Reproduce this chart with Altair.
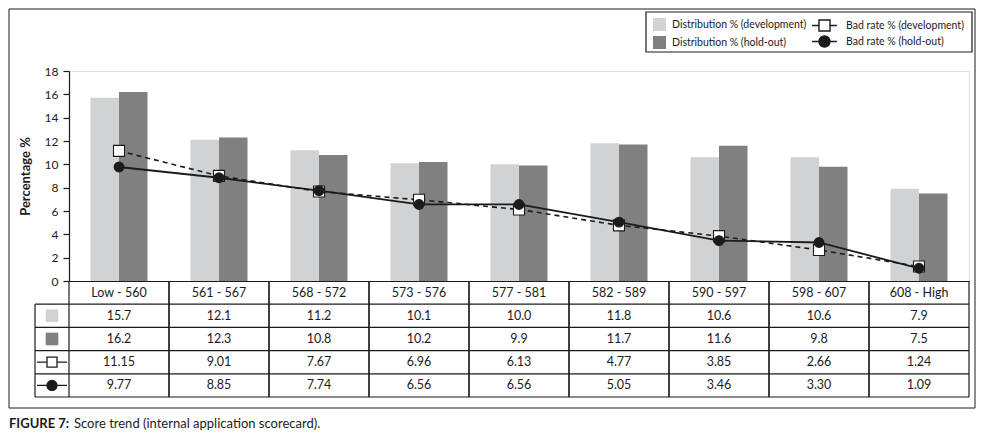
import altair as alt
import pandas as pd

# ---------------- data ----------------
CATEGORIES = ["Low - 560", "561 - 567", "568 - 572", "573 - 576", "577 - 581",
              "582 - 589", "590 - 597", "598 - 607", "608 - High"]
DIST_DEV = [15.7, 12.1, 11.2, 10.1, 10.0, 11.8, 10.6, 10.6, 7.9]
DIST_HOLD = [16.2, 12.3, 10.8, 10.2, 9.9, 11.7, 11.6, 9.8, 7.5]
BAD_DEV = [11.15, 9.01, 7.67, 6.96, 6.13, 4.77, 3.85, 2.66, 1.24]
BAD_HOLD = [9.77, 8.85, 7.74, 6.56, 6.56, 5.05, 3.46, 3.30, 1.09]
SERIES = ["Distribution % (development)", "Distribution % (hold-out)",
          "Bad rate % (development)", "Bad rate % (hold-out)"]
Y_TICKS = [0, 2, 4, 6, 8, 10, 12, 14, 16, 18]
Y_TITLE = "Percentage %"
CAPTION_BOLD = "FIGURE 7:"
CAPTION_TEXT = "Score trend (internal application scorecard)."

# ---------------- style ----------------
FONT = "Lato"
INK = "#1b1b1b"
LIGHT = "#d1d2d4"
DARK = "#808080"
PLOT_W, PLOT_H = 900, 210
ROW_H = 23.2
N_ROWS = 5

n = len(CATEGORIES)
bars_df = pd.DataFrame({"cat": CATEGORIES * 2,
                        "series": [SERIES[0]] * n + [SERIES[1]] * n,
                        "value": DIST_DEV + DIST_HOLD})
rates_df = pd.DataFrame({"cat": CATEGORIES * 2,
                         "series": [SERIES[2]] * n + [SERIES[3]] * n,
                         "value": BAD_DEV + BAD_HOLD})
row_of = {s: i + 1 for i, s in enumerate(SERIES)}
table_df = pd.concat([bars_df, rates_df], ignore_index=True)
table_df["ry"] = table_df["series"].map(row_of) + 0.5
header_df = pd.DataFrame({"cat": CATEGORIES, "ry": [0.5] * n})
cat_df = pd.DataFrame({"cat": CATEGORIES})
hline_df = pd.DataFrame({"r": list(range(1, N_ROWS + 1))})
key_df = pd.DataFrame({"series": SERIES, "ry": [row_of[s] + 0.5 for s in SERIES]})
one = pd.DataFrame({"k": [0]})

# ---------------- main chart ----------------
x_main = alt.X("cat:N", sort=CATEGORIES,
               scale=alt.Scale(domain=CATEGORIES, paddingInner=0.43, paddingOuter=0.215),
               axis=alt.Axis(labels=False, ticks=False, title=None,
                             domainColor=INK, domainWidth=1.2))
y_main = alt.Y("value:Q", scale=alt.Scale(domain=[0, 18], nice=False),
               axis=alt.Axis(values=Y_TICKS, tickSize=6, tickColor=INK, tickWidth=1.2,
                             domainColor=INK, domainWidth=1.2, grid=False,
                             labelFont=FONT, labelFontSize=12, labelColor=INK, labelPadding=5,
                             title=Y_TITLE, titleFont=FONT, titleFontSize=13,
                             titleFontWeight="bold", titleColor=INK, titlePadding=12))

legend_a = alt.Legend(title=None, orient="none", legendX=584, legendY=-53,
                      direction="vertical", symbolType="square", symbolSize=169,
                      symbolStrokeWidth=0, labelOffset=6, rowPadding=5, padding=0,
                      labelFont=FONT, labelFontSize=10.5, labelColor=INK, labelLimit=300)

PATH_DEV_L = "M-1.9,0H-0.85M0.85,0H1.9M-0.85,-0.85H0.85V0.85H-0.85Z"
PATH_HOLD_L = "M-1.9,0H1.9M-0.85,0A0.85,0.85,0,1,1,0.85,0A0.85,0.85,0,1,1,-0.85,0Z"
legend_b = alt.Legend(title=None, orient="none", legendX=748, legendY=-53,
                      direction="vertical", symbolSize=169, symbolStrokeWidth=1.4,
                      symbolStrokeColor=INK, labelOffset=14, rowPadding=-1, padding=0,
                      labelFont=FONT, labelFontSize=10.5, labelColor=INK, labelLimit=300)

bars = alt.Chart(bars_df).mark_bar().encode(
    x=x_main,
    xOffset=alt.XOffset("series:N", scale=alt.Scale(domain=SERIES[:2])),
    y=y_main,
    fill=alt.Fill("series:N", scale=alt.Scale(domain=SERIES[:2], range=[LIGHT, DARK]),
                  legend=legend_a),
)

line_dev = alt.Chart(rates_df).transform_filter(alt.datum.series == SERIES[2]).mark_line(
    color=INK, strokeWidth=1.6, strokeDash=[5, 4]).encode(x=x_main, y=y_main)
line_hold = alt.Chart(rates_df).transform_filter(alt.datum.series == SERIES[3]).mark_line(
    color=INK, strokeWidth=1.8).encode(x=x_main, y=y_main)

pts_color = alt.Color("series:N", scale=alt.Scale(domain=SERIES[2:], range=["#ffffff", INK]),
                      legend=legend_b)
pts_shape = alt.Shape("series:N", scale=alt.Scale(domain=SERIES[2:], range=[PATH_DEV_L, PATH_HOLD_L]),
                      legend=legend_b)
# legend-only layer (no rows pass the filter; the legend is built from the scale domains)
legend_src = alt.Chart(rates_df).transform_filter("false").mark_point(
    filled=True, stroke=INK, strokeWidth=1.4, opacity=1
).encode(x=x_main, y=y_main, color=pts_color, shape=pts_shape)

pts_dev = alt.Chart(rates_df).transform_filter(alt.datum.series == SERIES[2]).mark_point(
    filled=True, shape="square", size=121, stroke=INK, strokeWidth=1.1, opacity=1
).encode(x=x_main, y=y_main, color=pts_color)
pts_hold = alt.Chart(rates_df).transform_filter(alt.datum.series == SERIES[3]).mark_point(
    filled=True, shape="circle", size=95, stroke=INK, strokeWidth=1.1, opacity=1
).encode(x=x_main, y=y_main, color=pts_color)

main = alt.layer(bars, line_dev, line_hold, legend_src, pts_dev, pts_hold)

# ---------------- table ----------------
tab_x_scale = alt.Scale(type="band", domain=CATEGORIES, paddingInner=0, paddingOuter=0)
row_scale = alt.Scale(domain=[0, N_ROWS], range=[PLOT_H, PLOT_H + N_ROWS * ROW_H],
                      nice=False, zero=False)


def xt(bp=None):
    if bp is None:
        return alt.X("cat:N", sort=CATEGORIES, scale=tab_x_scale, axis=None)
    return alt.X("cat:N", sort=CATEGORIES, scale=tab_x_scale, axis=None, bandPosition=bp)


yrow = alt.Y("ry:Q", scale=row_scale, axis=None)

vrules_l = alt.Chart(cat_df).mark_rule(color=INK, strokeWidth=1.2).encode(
    x=xt(0), y=alt.YDatum(0, type="quantitative", scale=row_scale, axis=None),
    y2=alt.Y2Datum(N_ROWS))
vrules_r = alt.Chart(cat_df).mark_rule(color=INK, strokeWidth=1.2).encode(
    x=xt(1), y=alt.YDatum(0, type="quantitative", scale=row_scale, axis=None),
    y2=alt.Y2Datum(N_ROWS))
key_border = alt.Chart(one).mark_rule(color=INK, strokeWidth=1.2).encode(
    x=alt.value(-34), y=alt.YDatum(1, type="quantitative", scale=row_scale, axis=None),
    y2=alt.Y2Datum(N_ROWS))
hrules = alt.Chart(hline_df).mark_rule(color=INK, strokeWidth=1.2).encode(
    y=alt.Y("r:Q", scale=row_scale, axis=None), x=alt.value(-34), x2=alt.value(PLOT_W))

header_text = alt.Chart(header_df).mark_text(
    font=FONT, fontSize=12.5, color=INK, baseline="middle").encode(
    x=xt(), y=yrow, text="cat:N")
dist_text = alt.Chart(table_df).transform_filter(
    alt.FieldOneOfPredicate(field="series", oneOf=SERIES[:2])).mark_text(
    font=FONT, fontSize=12.5, color=INK, baseline="middle").encode(
    x=xt(), y=yrow, text=alt.Text("value:Q", format=".1f"))
bad_text = alt.Chart(table_df).transform_filter(
    alt.FieldOneOfPredicate(field="series", oneOf=SERIES[2:])).mark_text(
    font=FONT, fontSize=12.5, color=INK, baseline="middle").encode(
    x=xt(), y=yrow, text=alt.Text("value:Q", format=".2f"))

PATH_DEV_K = "M-3,0H-1M1,0H3M-1,-1H1V1H-1Z"
PATH_HOLD_K = "M-3,0H3M-1,0A1,1,0,1,1,1,0A1,1,0,1,1,-1,0Z"


def key_layer(s, **mk):
    return alt.Chart(key_df).transform_filter(alt.datum.series == s).mark_point(
        filled=True, opacity=1, **mk).encode(x=alt.value(-17), y=yrow)


key1 = key_layer(SERIES[0], shape="square", size=160, fill=LIGHT, strokeWidth=0)
key2 = key_layer(SERIES[1], shape="square", size=160, fill=DARK, strokeWidth=0)
key3 = key_layer(SERIES[2], shape=PATH_DEV_K, size=100, fill="#ffffff", stroke=INK, strokeWidth=1.3)
key4 = key_layer(SERIES[3], shape=PATH_HOLD_K, size=100, fill=INK, stroke=INK, strokeWidth=1.3)

frame = alt.Chart(one).mark_rect(fillOpacity=0, stroke=INK, strokeWidth=1).encode(
    x=alt.value(-60), x2=alt.value(906), y=alt.value(-62), y2=alt.value(337))
legend_box = alt.Chart(one).mark_rect(fillOpacity=0, stroke=INK, strokeWidth=1.2).encode(
    x=alt.value(577), x2=alt.value(903), y=alt.value(-59), y2=alt.value(-19))
cap1 = alt.Chart(one).mark_text(font=FONT, fontSize=13, fontWeight="bold", color=INK,
                                align="left", baseline="middle").encode(
    x=alt.value(-60), y=alt.value(353), text=alt.value(CAPTION_BOLD))
cap2 = alt.Chart(one).mark_text(font=FONT, fontSize=13, color=INK,
                                align="left", baseline="middle").encode(
    x=alt.value(5), y=alt.value(353), text=alt.value(CAPTION_TEXT))

table = alt.layer(vrules_l, vrules_r, key_border, hrules, header_text, dist_text, bad_text,
                  key1, key2, key3, key4, frame, legend_box, cap1, cap2)

chart = alt.layer(main, table).resolve_scale(x="independent", y="independent").properties(
    width=PLOT_W, height=PLOT_H, padding=0
).configure_view(stroke=None).configure(font=FONT)

chart.save("out.html", embed_options={"renderer": "svg", "actions": False})
